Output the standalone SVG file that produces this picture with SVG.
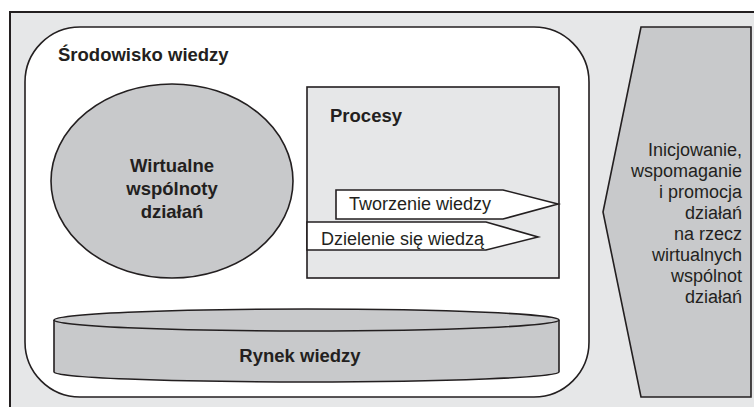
<svg xmlns="http://www.w3.org/2000/svg" width="754" height="407" viewBox="0 0 754 407">
<style>
text{font-family:"Liberation Sans",Arial,sans-serif;fill:#231f20}
.b{font-weight:bold;font-size:18.5px}
.r{font-size:18px}
.ln{stroke:#231f20;stroke-width:1.6;stroke-linejoin:miter}
.g{fill:#c8c9cb}
</style>
<rect x="0" y="0" width="754" height="407" fill="#ffffff"/>
<g id="frame">
<rect x="10" y="12" width="770" height="420" fill="#e6e7e8" stroke="#231f20" stroke-width="2"/>
</g>
<g id="srodowisko">
<rect x="25" y="27" width="564" height="370" rx="55" ry="55" fill="#ffffff" class="ln"/>
<text x="58" y="61" class="b">Środowisko wiedzy</text>
</g>
<g id="wspolnoty">
<ellipse cx="172" cy="181" rx="121" ry="97" class="ln g"/>
<text x="172" y="172" class="b" text-anchor="middle">Wirtualne</text>
<text x="172" y="195" class="b" text-anchor="middle">wspólnoty</text>
<text x="172" y="218" class="b" text-anchor="middle">działań</text>
</g>
<g id="procesy">
<rect x="307" y="87" width="252" height="191" fill="#e6e7e8" class="ln"/>
<text x="330" y="122" class="b">Procesy</text>
</g>
<g id="tworzenie">
<polygon points="336,190 503,190 558,204 503,219 336,219" fill="#ffffff" class="ln"/>
<text x="349" y="210" class="r">Tworzenie wiedzy</text>
</g>
<g id="dzielenie">
<polygon points="307,222 486,222 538,237 486,250 307,250" fill="#ffffff" class="ln"/>
<text x="321" y="245" class="r">Dzielenie się wiedzą</text>
</g>
<g id="rynek">
<path d="M54,320 L54,372 A252.5,10 0 0 0 559,372 L559,320" class="ln g"/>
<ellipse cx="306.5" cy="320" rx="252.5" ry="11" class="ln g"/>
<text x="300" y="362" class="b" text-anchor="middle">Rynek wiedzy</text>
</g>
<g id="inicjowanie">
<polygon points="641,27 751,27 751,397 641,397 603,212" class="ln g"/>
<g text-anchor="end">
<text x="742" y="156" class="r">Inicjowanie,</text>
<text x="742" y="177" class="r">wspomaganie</text>
<text x="742" y="198" class="r">i promocja</text>
<text x="742" y="219" class="r">działań</text>
<text x="742" y="240" class="r">na rzecz</text>
<text x="742" y="261" class="r">wirtualnych</text>
<text x="742" y="282" class="r">wspólnot</text>
<text x="742" y="303" class="r">działań</text>
</g>
</g>
<g id="connectors"></g>
</svg>
